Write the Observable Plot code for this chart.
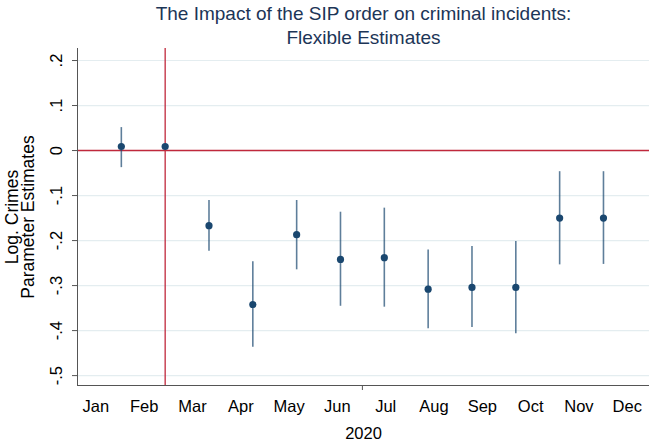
<!DOCTYPE html>
<html><head><meta charset="utf-8">
<script src="https://cdn.jsdelivr.net/npm/d3@7"></script>
<script src="https://cdn.jsdelivr.net/npm/@observablehq/plot@0.6"></script>
<style>body{margin:0;background:#fff} svg{display:block}</style>
</head><body><div id="chart"></div>
<script>
const months = ["Jan","Feb","Mar","Apr","May","Jun","Jul","Aug","Sep","Oct","Nov","Dec"];
const estimates = [0.009, 0.009, -0.167, -0.342, -0.187, -0.242, -0.238, -0.308, -0.304, -0.304, -0.150, -0.150];
const ciLow  = [-0.038, 0.009, -0.224, -0.437, -0.265, -0.346, -0.348, -0.396, -0.393, -0.407, -0.254, -0.253];
const ciHigh = [ 0.051, 0.009, -0.111, -0.247, -0.111, -0.137, -0.128, -0.221, -0.213, -0.202, -0.047, -0.047];
const yTicks = [0.2, 0.1, 0, -0.1, -0.2, -0.3, -0.4, -0.5];
const yTickLabels = [".2", ".1", "0", "-.1", "-.2", "-.3", "-.4", "-.5"];
const monthLabelStart = -0.58, monthLabelStep = 1.102;
const midTick = [5.5];
const sipIndex = 1;
const xTitle = "2020";
const yTitle = ["Log. Crimes", "Parameter Estimates"];
const titleLines = ["The Impact of the SIP order on criminal incidents:", "Flexible Estimates"];

const periods = months.map((m, i) => ({i, est: estimates[i], lo: ciLow[i], hi: ciHigh[i]}));
const labelPos = months.map((m, j) => monthLabelStart + monthLabelStep * j);

const red = "#c0283c";
const navy = "#1a476f";
const font = "Liberation Sans, Arial, Helvetica, sans-serif";

const chart = Plot.plot({
  width: 649, height: 444,
  marginTop: 48, marginBottom: 59, marginLeft: 77, marginRight: 0,
  style: {fontFamily: font, background: "#fff", color: "#000"},
  x: {domain: [-1, 12.05], axis: null},
  y: {domain: [-0.522, 0.2267], axis: null},
  marks: [
    Plot.ruleY(yTicks, {stroke: "#e4edf0", strokeWidth: 1.2}),
    Plot.ruleY([0], {stroke: red, strokeWidth: 1.6}),
    Plot.ruleX([sipIndex], {stroke: red, strokeWidth: 1.3}),
    Plot.ruleX(periods, {x: "i", y1: "lo", y2: "hi", stroke: navy, strokeWidth: 1.6, strokeOpacity: 0.7}),
    Plot.dot(periods, {x: "i", y: "est", r: 3.6, fill: navy, stroke: "none"}),
    Plot.frame({anchor: "left", stroke: "#555"}),
    Plot.frame({anchor: "bottom", stroke: "#555"}),
    Plot.axisY({ticks: yTicks, tickSize: 5, tickFormat: () => "", stroke: "#555", label: null}),
    Plot.axisX({ticks: midTick, tickSize: 5, tickFormat: () => "", stroke: "#555", label: null}),
    Plot.text(yTicks, {y: d => d, frameAnchor: "left", dx: -21, rotate: -90, text: (d, i) => yTickLabels[i],
      textAnchor: "middle", lineAnchor: "middle", fontSize: 16.5, fill: "#000"}),
    Plot.text(months, {x: (d, j) => labelPos[j], frameAnchor: "bottom", dy: 21, text: d => d,
      textAnchor: "middle", lineAnchor: "middle", fontSize: 16.5, fill: "#000"}),
    Plot.text([xTitle], {frameAnchor: "bottom", dy: 48.5, text: d => d,
      textAnchor: "middle", lineAnchor: "middle", fontSize: 16.5, fill: "#000"}),
    Plot.text([yTitle[0]], {frameAnchor: "left", dx: -65, rotate: -90, text: d => d,
      textAnchor: "middle", lineAnchor: "middle", fontSize: 17.5, fill: "#000"}),
    Plot.text([yTitle[1]], {frameAnchor: "left", dx: -49, rotate: -90, text: d => d,
      textAnchor: "middle", lineAnchor: "middle", fontSize: 17.5, fill: "#000"}),
    Plot.text([titleLines[0]], {frameAnchor: "top", dy: -34.6, text: d => d,
      textAnchor: "middle", lineAnchor: "middle", fontSize: 19, fill: "#1c3557"}),
    Plot.text([titleLines[1]], {frameAnchor: "top", dy: -10.6, text: d => d,
      textAnchor: "middle", lineAnchor: "middle", fontSize: 19, fill: "#1c3557"})
  ]
});
document.getElementById("chart").appendChild(chart);
</script>
</body></html>
